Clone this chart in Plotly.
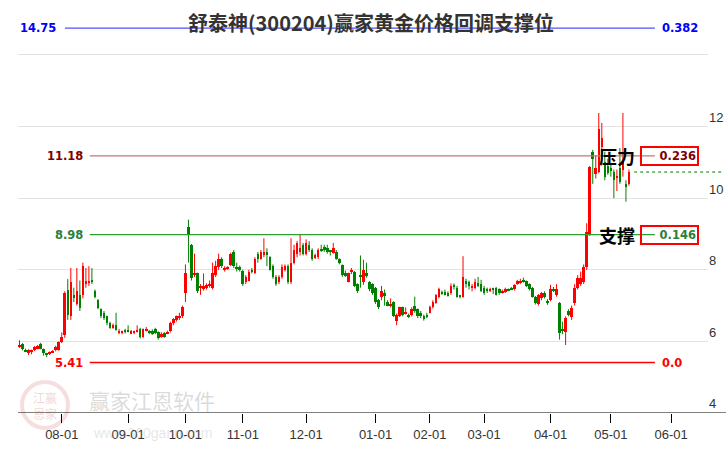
import plotly.graph_objects as go

# ---------------- data ----------------
title_text = "舒泰神(300204)赢家黄金价格回调支撑位"

opens = [5.85,5.93,5.77,5.68,5.72,5.76,5.80,5.93,5.78,5.66,5.65,5.70,5.75,5.76,5.98,6.17,7.43,6.72,7.30,7.05,
         7.30,7.30,7.60,7.62,7.72,7.40,7.15,6.90,6.80,6.70,6.50,6.38,6.45,6.23,6.24,6.32,6.30,6.23,6.24,6.27,
         6.34,6.12,6.30,6.28,6.30,6.34,6.25,6.12,6.24,6.22,6.28,6.50,6.60,6.65,6.70,7.35,9.20,8.70,7.85,7.90,
         7.48,7.45,7.48,7.55,7.50,7.85,8.08,8.30,8.02,8.03,8.13,8.50,8.08,8.07,7.97,7.66,7.70,8.00,7.90,8.45,
         8.30,8.40,8.50,8.35,8.10,7.80,7.65,7.80,8.00,8.10,7.65,8.20,8.43,8.50,8.70,8.43,8.70,8.55,8.35,8.35,
         8.55,8.65,8.60,8.52,8.47,8.50,8.30,8.13,7.90,7.67,7.95,7.95,7.60,7.85,7.67,7.90,7.65,7.60,7.50,7.15,
         7.25,7.35,7.10,7.00,7.10,6.57,6.70,6.95,6.78,6.74,6.75,7.00,6.90,6.78,6.70,6.75,6.80,6.97,7.07,7.25,
         7.38,7.37,7.35,7.35,7.58,7.50,7.28,7.25,7.68,7.65,7.50,7.50,7.62,7.60,7.50,7.45,7.42,7.46,7.50,7.45,
         7.37,7.38,7.45,7.50,7.45,7.60,7.62,7.70,7.68,7.60,7.50,7.25,7.05,7.20,7.35,7.12,7.15,7.47,7.30,7.07,
         6.35,6.27,6.85,6.67,7.07,7.50,7.60,7.65,8.08,8.97,11.30,10.68,10.73,11.43,11.00,10.90,10.85,10.72,10.58,10.85,
         10.80,10.40,10.40]
highs = [6.03,5.95,5.80,5.78,5.77,5.87,5.90,5.96,5.80,5.68,5.72,5.76,5.88,6.00,6.25,7.40,7.74,8.05,7.50,8.05,
         7.70,8.20,8.05,8.10,8.05,7.45,7.18,6.92,6.85,6.72,6.55,6.50,6.80,6.35,6.30,6.35,6.45,6.32,6.30,6.45,
         6.38,6.36,6.40,6.32,6.34,6.38,6.28,6.26,6.26,6.30,6.55,6.65,6.72,6.80,7.00,8.15,9.40,8.72,8.45,7.92,
         7.60,7.90,7.62,7.70,8.20,8.25,8.45,8.35,8.10,8.10,8.48,8.55,8.20,8.12,8.00,7.85,8.00,8.05,8.35,8.50,
         8.55,8.88,8.60,8.38,8.15,7.85,7.85,8.15,8.15,8.15,8.88,8.70,8.80,9.00,8.75,8.85,8.80,8.60,8.45,8.60,
         8.70,8.70,8.70,8.55,8.75,8.55,8.32,8.15,7.98,7.92,8.05,7.97,7.62,8.40,8.28,8.20,7.68,7.62,7.52,7.18,
         7.55,7.45,7.15,7.20,7.12,6.78,6.97,6.97,6.95,6.78,6.95,7.25,6.92,6.85,6.75,6.80,7.00,7.15,7.32,7.50,
         7.42,7.45,7.40,7.62,7.62,7.55,7.30,8.38,7.75,7.70,7.60,7.75,7.80,7.72,7.55,7.50,7.50,7.50,7.52,7.48,
         7.45,7.50,7.48,7.52,7.60,7.72,7.75,7.78,7.70,7.62,7.52,7.27,7.32,7.38,7.40,7.18,7.58,7.52,7.60,7.10,
         6.55,6.70,6.90,7.00,7.60,7.85,7.95,8.15,9.30,10.90,11.35,11.20,12.38,12.10,11.30,11.10,10.95,10.80,10.80,11.40,
         12.38,10.50,10.80]
lows = [5.82,5.75,5.70,5.62,5.64,5.73,5.78,5.78,5.60,5.56,5.62,5.68,5.72,5.74,5.95,6.10,6.60,6.60,7.10,7.00,
        6.85,7.20,7.50,7.55,7.60,7.20,6.90,6.65,6.60,6.45,6.35,6.35,6.30,6.20,6.20,6.22,6.25,6.20,6.20,6.25,
        6.08,6.10,6.28,6.20,6.18,6.20,6.05,6.10,6.10,6.20,6.25,6.45,6.55,6.60,6.65,7.10,8.20,7.70,7.80,7.35,
        7.30,7.42,7.45,7.50,7.45,7.80,8.00,8.05,7.95,8.00,8.10,8.05,7.95,7.95,7.55,7.60,7.68,7.90,7.88,8.20,
        8.28,8.35,8.10,7.98,7.75,7.55,7.60,7.75,7.95,7.60,7.60,8.15,8.35,8.40,8.40,8.40,8.50,8.25,8.30,8.30,
        8.50,8.50,8.45,8.40,8.45,8.28,8.15,7.80,7.80,7.65,7.88,7.52,7.35,7.50,7.58,7.78,7.40,7.30,7.05,6.90,
        7.15,7.00,6.98,6.95,6.68,6.45,6.68,6.70,6.75,6.65,6.70,6.80,6.65,6.65,6.58,6.65,6.78,6.92,7.05,7.20,
        7.30,7.28,7.25,7.30,7.45,7.22,7.20,7.22,7.50,7.45,7.40,7.45,7.52,7.38,7.30,7.35,7.38,7.32,7.28,7.30,
        7.33,7.35,7.40,7.43,7.42,7.58,7.60,7.64,7.52,7.42,7.22,7.03,7.00,7.15,7.20,7.02,7.12,7.38,7.25,6.05,
        6.20,5.90,6.70,6.60,7.00,7.45,7.55,7.60,8.00,8.95,10.40,10.55,10.70,11.00,10.50,10.65,10.60,10.00,10.20,10.40,
        10.60,9.90,10.35]
closes = [5.90,5.78,5.72,5.75,5.74,5.84,5.87,5.80,5.67,5.64,5.70,5.73,5.85,5.97,6.13,7.35,6.74,7.66,7.20,7.40,
          6.93,8.10,7.70,7.68,7.66,7.25,6.93,6.70,6.65,6.50,6.38,6.45,6.33,6.30,6.27,6.27,6.28,6.28,6.27,6.29,
          6.12,6.34,6.36,6.26,6.20,6.24,6.10,6.22,6.13,6.26,6.50,6.62,6.70,6.72,6.96,7.90,9.00,7.77,7.92,7.40,
          7.55,7.55,7.57,7.58,7.90,8.10,8.30,8.10,8.06,8.06,8.44,8.10,8.03,8.00,7.60,7.80,7.95,7.93,8.30,8.30,
          8.50,8.50,8.40,8.00,7.80,7.60,7.80,8.08,8.10,7.65,8.20,8.55,8.75,8.60,8.45,8.75,8.55,8.30,8.40,8.55,
          8.53,8.55,8.50,8.50,8.60,8.30,8.20,7.85,7.85,7.90,8.00,7.55,7.40,7.82,8.00,7.82,7.45,7.35,7.10,6.96,
          7.40,7.28,7.00,7.03,6.70,6.73,6.95,6.75,6.82,6.70,6.90,6.85,6.70,6.72,6.63,6.70,6.97,7.10,7.30,7.45,
          7.33,7.30,7.28,7.55,7.52,7.25,7.26,7.80,7.63,7.55,7.55,7.65,7.57,7.40,7.35,7.43,7.45,7.44,7.30,7.35,
          7.42,7.47,7.43,7.46,7.58,7.68,7.70,7.66,7.55,7.45,7.25,7.07,7.30,7.35,7.25,7.08,7.45,7.42,7.45,6.23,
          6.30,6.65,6.75,6.93,7.50,7.77,7.78,8.08,9.05,10.87,11.10,10.84,11.93,11.68,10.60,10.70,10.75,10.50,10.62,10.45,
          11.00,10.30,10.73]

tick_index = [14, 36, 55, 74, 95, 118, 136, 154, 176, 196, 216]
tick_labels = ["08-01", "09-01", "10-01", "11-01", "12-01", "01-01", "02-01", "03-01", "04-01", "05-01", "06-01"]

level_values = [14.75, 11.18, 8.98, 5.41]
level_ratios = ["0.382", "0.236", "0.146", "0.0"]
level_names = {11.18: "压力", 8.98: "支撑"}

y_ticks = [4, 6, 8, 10, 12, 14]
y_ticktext = ["4", "6", "8", "10", "12", ""]

# ---------------- styles ----------------
UP = "#ff0000"
DOWN = "#008000"
level_line_colors = ["#5050ff", "#c07878", "#2ca02c", "#ff0000"]
level_text_colors = ["#0000ff", "#800000", "#2a7f3a", "#ff0000"]
level_line_x0 = [0.068, 0.104, 0.104, 0.104]
level_label_x = [0.058, 0.097, 0.097, 0.097]
boxed = [False, True, True, False]

fig = go.Figure()

# candles: wicks + bodies, split by direction
for up, color in ((True, UP), (False, DOWN)):
    wx, wy, bx, bbase, bh = [], [], [], [], []
    for i, (o, h, l, c) in enumerate(zip(opens, highs, lows, closes)):
        if (c >= o) != up:
            continue
        wx += [i, i, None]
        wy += [l, h, None]
        bx.append(i)
        bbase.append(min(o, c))
        bh.append(max(abs(c - o), 0.03))
    fig.add_trace(go.Scatter(x=wx, y=wy, mode="lines", line=dict(color=color, width=1),
                             hoverinfo="skip", showlegend=False))
    fig.add_trace(go.Bar(x=bx, y=bh, base=bbase, width=0.85, marker=dict(color=color, line=dict(width=0)),
                         hoverinfo="skip", showlegend=False))

shapes = []
annotations = []
lab_font = "DejaVu Sans, Verdana, sans-serif"
for i, v in enumerate(level_values):
    shapes.append(dict(type="line", xref="paper", yref="y", x0=level_line_x0[i], x1=0.923,
                       y0=v, y1=v, line=dict(color=level_line_colors[i], width=1.3), layer="above"))
    annotations.append(dict(xref="paper", yref="y", x=level_label_x[i], y=v, text=f"<b>{v:.2f}</b>",
                            showarrow=False, xanchor="right", yanchor="middle",
                            font=dict(family=lab_font, size=11.5, color=level_text_colors[i])))
    if boxed[i]:
        annotations.append(dict(xref="paper", yref="y", x=0.901, y=v, text=f"<b>{level_ratios[i]}</b>",
                                showarrow=False, xanchor="left", yanchor="middle", width=53, align="right",
                                bordercolor="#ff0000", borderwidth=2, borderpad=1,
                                font=dict(family=lab_font, size=11.5, color=level_text_colors[i])))
        annotations.append(dict(xref="paper", yref="y", x=0.868, y=v, text=f"<b>{level_names[v]}</b>",
                                showarrow=False, xanchor="center", yanchor="middle",
                                font=dict(family="Noto Sans CJK SC", size=18, color="#000000")))
    else:
        annotations.append(dict(xref="paper", yref="y", x=0.930, y=v, text=f"<b>{level_ratios[i]}</b>",
                                showarrow=False, xanchor="left", yanchor="middle",
                                font=dict(family=lab_font, size=11.5, color=level_text_colors[i])))

# dotted line at last close
shapes.append(dict(type="line", xref="paper", yref="y", x0=0.893, x1=1.022, y0=closes[-1], y1=closes[-1],
                   line=dict(color="#008000", width=1, dash="dot")))
# x axis baseline
shapes.append(dict(type="line", xref="paper", yref="y", x0=0, x1=1.03, y0=4, y1=4,
                   line=dict(color="#000000", width=1), layer="above"))

# watermark
shapes.append(dict(type="circle", xref="paper", yref="paper", x0=(22-18)/690, x1=(68-18)/690,
                   y0=(413-428)/401, y1=(413-382)/401,
                   line=dict(color="rgba(210,90,90,0.2)", width=4), layer="below"))
annotations.append(dict(xref="paper", yref="paper", x=(45-18)/690, y=(413-405)/401, text="江赢<br>恩家",
                        showarrow=False, xanchor="center", yanchor="middle",
                        font=dict(family="Noto Sans CJK SC", size=12, color="rgba(200,90,90,0.25)")))
annotations.append(dict(xref="paper", yref="paper", x=(152-18)/690, y=(413-400)/401, text="赢家江恩软件",
                        showarrow=False, xanchor="center", yanchor="middle",
                        font=dict(family="Noto Sans CJK SC", size=21, color="rgba(150,150,150,0.35)")))
annotations.append(dict(xref="paper", yref="paper", x=(152-18)/690, y=(413-433)/401, text="www.360gann.com",
                        showarrow=False, xanchor="center", yanchor="middle",
                        font=dict(family="Liberation Sans", size=14, color="rgba(150,150,150,0.25)")))

# title
annotations.append(dict(xref="paper", yref="paper", x=(371-18)/690, y=(413-22)/401,
                        text=f"<b>{title_text}</b>", showarrow=False, xanchor="center", yanchor="middle",
                        font=dict(family="Noto Sans CJK SC", size=20, color="#333333")))

fig.update_layout(
    width=726, height=450,
    margin=dict(l=18, r=18, t=12, b=37, autoexpand=False),
    paper_bgcolor="#ffffff", plot_bgcolor="#ffffff",
    shapes=shapes, annotations=annotations,
    showlegend=False, barmode="overlay", bargap=0,
    xaxis=dict(type="linear", range=[-0.5, 228.2], automargin=False,
               tickvals=tick_index, ticktext=tick_labels, ticks="outside", ticklen=9,
               tickcolor="#000000", showgrid=False, zeroline=False, showline=False,
               tickfont=dict(family="Liberation Sans, Arial", size=13, color="#333333")),
    yaxis=dict(side="right", range=[4, 15.2], tickvals=y_ticks, ticktext=y_ticktext, automargin=False,
               showgrid=True, gridcolor="#e3e3e3", gridwidth=1, zeroline=False, showline=False,
               ticks="", ticklabelposition="outside top",
               tickfont=dict(family="Liberation Sans, Arial", size=13, color="#333333")),
)

fig.write_html("out.html", config={"displayModeBar": False},
               post_script="document.body.style.margin='0';")
